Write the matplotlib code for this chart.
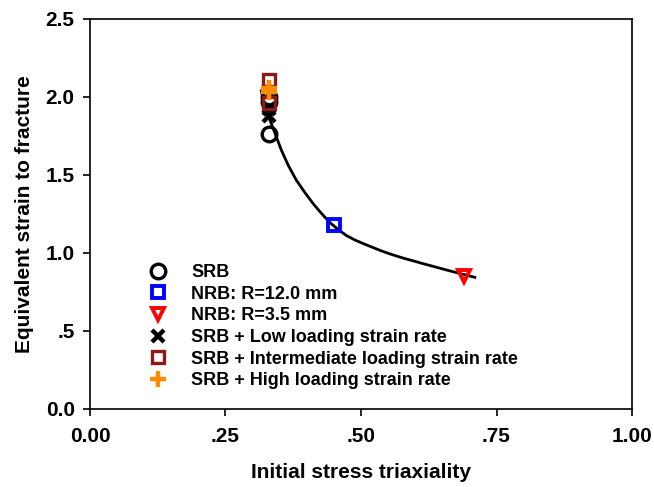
import matplotlib
matplotlib.use("Agg")
import matplotlib.pyplot as plt
from matplotlib.ticker import FixedLocator, FixedFormatter

plt.rcParams['font.family'] = ['Liberation Sans', 'DejaVu Sans']

# data
srb_x = [0.33, 0.33, 0.33]
srb_y = [1.76, 1.97, 2.00]
nrb12_x = [0.45]
nrb12_y = [1.18]
nrb35_x = [0.69]
nrb35_y = [0.85]
low_x = [0.33, 0.33]
low_y = [1.88, 1.92]
inter_x = [0.33, 0.33]
inter_y = [2.11, 1.96]
high_x = [0.33, 0.33]
high_y = [2.06, 2.03]

fit_x = [0.316, 0.322, 0.330, 0.341, 0.353, 0.366, 0.381, 0.397, 0.412, 0.427, 0.442,
         0.458, 0.473, 0.489, 0.505, 0.520, 0.535, 0.550, 0.566, 0.581, 0.597, 0.612,
         0.628, 0.645, 0.661, 0.678, 0.694, 0.710]
fit_y = [2.04, 1.95, 1.87, 1.77, 1.66, 1.56, 1.465, 1.385, 1.315, 1.254, 1.197,
         1.150, 1.112, 1.083, 1.059, 1.038, 1.017, 0.998, 0.980, 0.964, 0.949, 0.934,
         0.919, 0.903, 0.888, 0.873, 0.858, 0.844]

xticks = [0.0, 0.25, 0.5, 0.75, 1.0]
xticklabels = ['0.00', '.25', '.50', '.75', '1.00']
yticks = [0.0, 0.5, 1.0, 1.5, 2.0, 2.5]
yticklabels = ['0.0', '.5', '1.0', '1.5', '2.0', '2.5']

fig = plt.figure(figsize=(6.54, 4.87), dpi=100)
ax = fig.add_axes([0.1376, 0.1602, 0.8288, 0.8008])

ax.plot(fit_x, fit_y, color='black', lw=2, zorder=2, solid_joinstyle='round')

mew = 2.4
ax.plot(srb_x, srb_y, ls='none', marker='o', ms=10.5, mfc='none', mec='black', mew=mew, label='SRB', zorder=3)
ax.plot(nrb12_x, nrb12_y, ls='none', marker='s', ms=9, mfc='none', mec='blue', mew=2.8, label='NRB: R=12.0 mm', zorder=3)
ax.plot(nrb35_x, nrb35_y, ls='none', marker='v', ms=9, mfc='none', mec='red', mew=2.8, label='NRB: R=3.5 mm', zorder=3)
ax.plot(low_x, low_y, ls='none', marker='x', ms=9, mec='black', mew=3.2, label='SRB + Low loading strain rate', zorder=3)
ax.plot(inter_x, inter_y, ls='none', marker='s', ms=9, mfc='none', mec='#8B1A1A', mew=mew, label='SRB + Intermediate loading strain rate', zorder=3)
ax.plot(high_x, high_y, ls='none', marker='+', ms=12, mec='#FF8C00', mew=3.2, label='SRB + High loading strain rate', zorder=3)

ax.set_xlim(0, 1.0)
ax.set_ylim(0, 2.5)
ax.xaxis.set_major_locator(FixedLocator(xticks))
ax.xaxis.set_major_formatter(FixedFormatter(xticklabels))
ax.yaxis.set_major_locator(FixedLocator(yticks))
ax.yaxis.set_major_formatter(FixedFormatter(yticklabels))
ax.tick_params(direction='out', length=5, width=1.2, labelsize=15)
ax.tick_params(axis='x', pad=8)
ax.tick_params(axis='y', pad=6)
for lab in ax.get_xticklabels() + ax.get_yticklabels():
    lab.set_fontweight('bold')
for s in ax.spines.values():
    s.set_linewidth(1.2)

ax.set_xlabel('Initial stress triaxiality', fontsize=15, fontweight='bold', labelpad=12)
ax.set_ylabel('Equivalent strain to fracture', fontsize=15, fontweight='bold', labelpad=8)

leg = ax.legend(loc='lower left', bbox_to_anchor=(0.100, 0.05), frameon=False,
                prop={'weight': 'bold', 'size': 13}, handletextpad=1.1,
                labelspacing=0.26, handlelength=1.5, borderaxespad=0, borderpad=0)

fig.savefig('out.png', dpi=100)
